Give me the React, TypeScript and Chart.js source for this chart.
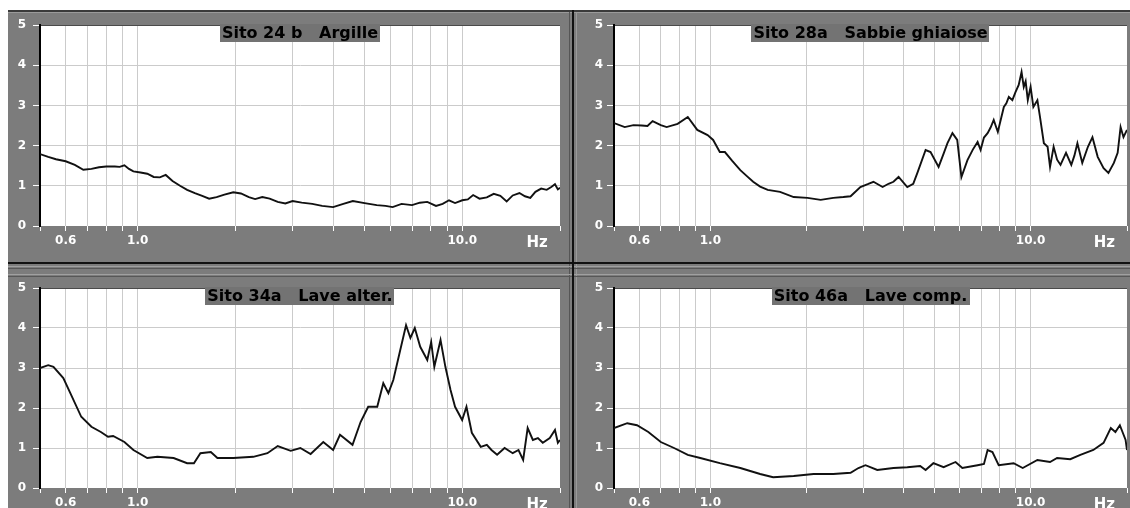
import React, { useEffect, useRef } from 'react';
import { Chart, registerables } from 'chart.js';

Chart.register(...registerables);

// ---------- data ----------
const TITLES = ['Sito 24 b   Argille', 'Sito 28a   Sabbie ghiaiose', 'Sito 34a   Lave alter.', 'Sito 46a   Lave comp.'];

const X_TICKS = [0.5, 0.6, 0.7, 0.8, 0.9, 1, 2, 3, 4, 5, 6, 7, 8, 9, 10, 17, 20];
const X_LABEL_VALUES = [0.6, 1, 10, 17];
const X_LABEL_TEXT = ['0.6', '1.0', '10.0', 'Hz'];
const X_NO_GRID = [0.5, 17, 20];
const Y_TICKS = [0, 1, 2, 3, 4, 5];

const freqA = [
  0.5, 0.53, 0.56, 0.6, 0.64, 0.68, 0.72, 0.76, 0.8, 0.85,
  0.88, 0.91, 0.94, 0.97, 1.02, 1.07, 1.12, 1.17, 1.22, 1.28,
  1.35, 1.42, 1.5, 1.58, 1.66, 1.75, 1.85, 1.97, 2.08, 2.2,
  2.3, 2.42, 2.55, 2.7, 2.85, 3.0, 3.2, 3.45, 3.7, 4.0,
  4.3, 4.6, 5.0, 5.45, 5.8, 6.1, 6.5, 7.0, 7.4, 7.8,
  8.3, 8.7, 9.1, 9.5, 10.0, 10.4, 10.8, 11.3, 11.9, 12.5,
  13.1, 13.7, 14.3, 15.0, 15.6, 16.2, 16.8, 17.5, 18.2, 18.8,
  19.3, 19.7, 20,
];
const valsA = [
  1.79, 1.72, 1.66, 1.61, 1.52, 1.40, 1.42, 1.46, 1.48, 1.48,
  1.47, 1.51, 1.42, 1.36, 1.33, 1.30, 1.22, 1.21, 1.27, 1.12,
  1.00, 0.90, 0.82, 0.75, 0.68, 0.72, 0.78, 0.84, 0.81, 0.72,
  0.67, 0.72, 0.68, 0.60, 0.56, 0.62, 0.58, 0.55, 0.50, 0.47,
  0.55, 0.62, 0.57, 0.52, 0.50, 0.47, 0.55, 0.52, 0.58, 0.60,
  0.50, 0.55, 0.64, 0.57, 0.64, 0.66, 0.77, 0.68, 0.71, 0.80,
  0.75, 0.61, 0.76, 0.82, 0.74, 0.70, 0.85, 0.93, 0.90, 0.97,
  1.04, 0.91, 0.95,
];

const freqB = [
  0.5, 0.54, 0.575, 0.61, 0.636, 0.66, 0.7, 0.73, 0.79, 0.85,
  0.91, 0.98, 1.02, 1.07, 1.11, 1.17, 1.24, 1.3, 1.36, 1.43,
  1.51, 1.65, 1.82, 2.01, 2.21, 2.42, 2.6, 2.74, 2.94, 3.1,
  3.23, 3.45, 3.6, 3.73, 3.87, 4.12, 4.3, 4.43, 4.7, 4.87,
  5.16, 5.35, 5.5, 5.7, 5.9, 6.08, 6.35, 6.6, 6.83, 6.98,
  7.15, 7.34, 7.5, 7.67, 7.9, 8.1, 8.25, 8.4, 8.55, 8.77,
  8.97, 9.18, 9.37, 9.52, 9.65, 9.8, 10.0, 10.2, 10.5, 10.7,
  11.0, 11.3, 11.5, 11.8, 12.1, 12.4, 12.9, 13.4, 13.7, 14.0,
  14.5, 15.1, 15.6, 16.2, 16.9, 17.5, 18.2, 18.7, 19.1, 19.5,
  20,
];
const valsB = [
  2.56, 2.46, 2.51, 2.50, 2.49, 2.61, 2.51, 2.46, 2.54, 2.71,
  2.39, 2.26, 2.14, 1.84, 1.84, 1.62, 1.39, 1.24, 1.10, 0.98,
  0.90, 0.85, 0.72, 0.70, 0.65, 0.70, 0.72, 0.74, 0.97, 1.04,
  1.10, 0.97, 1.05, 1.10, 1.22, 0.97, 1.05, 1.32, 1.89, 1.84,
  1.47, 1.80, 2.06, 2.31, 2.14, 1.22, 1.64, 1.90, 2.09, 1.89,
  2.20, 2.31, 2.45, 2.64, 2.34, 2.70, 2.96, 3.05, 3.21, 3.13,
  3.33, 3.51, 3.83, 3.46, 3.60, 3.13, 3.46, 2.96, 3.13, 2.71,
  2.06, 1.97, 1.47, 1.97, 1.65, 1.52, 1.82, 1.52, 1.75, 2.06,
  1.57, 1.97, 2.21, 1.72, 1.44, 1.32, 1.57, 1.82, 2.46, 2.21,
  2.39,
];

const freqC = [
  0.5, 0.53, 0.55, 0.59, 0.62, 0.67, 0.72, 0.77, 0.81, 0.84,
  0.91, 0.97, 1.07, 1.15, 1.29, 1.42, 1.49, 1.56, 1.68, 1.76,
  1.97, 2.27, 2.51, 2.7, 2.96, 3.17, 3.41, 3.73, 4.0, 4.2,
  4.59, 4.86, 5.13, 5.47, 5.71, 5.92, 6.13, 6.44, 6.71, 6.92,
  7.14, 7.42, 7.8, 8.02, 8.2, 8.57, 8.87, 9.2, 9.5, 9.99,
  10.3, 10.7, 11.4, 11.9, 12.3, 12.8, 13.5, 14.3, 14.9, 15.4,
  15.9, 16.5, 17.1, 17.7, 18.6, 19.3, 19.7, 20,
];
const valsC = [
  3.00, 3.07, 3.03, 2.75, 2.37, 1.78, 1.53, 1.40, 1.28, 1.30,
  1.15, 0.95, 0.75, 0.78, 0.75, 0.62, 0.62, 0.87, 0.90, 0.75,
  0.75, 0.78, 0.87, 1.05, 0.93, 1.00, 0.85, 1.15, 0.95, 1.33,
  1.08, 1.65, 2.03, 2.03, 2.62, 2.37, 2.70, 3.45, 4.07, 3.75,
  4.00, 3.53, 3.20, 3.65, 3.03, 3.70, 3.03, 2.45, 2.03, 1.70,
  2.03, 1.38, 1.03, 1.08, 0.95, 0.83, 1.00, 0.87, 0.95, 0.70,
  1.50, 1.20, 1.25, 1.13, 1.25, 1.45, 1.13, 1.20,
];

const freqD = [
  0.5, 0.55, 0.59, 0.64, 0.7, 0.77, 0.85, 0.93, 1.07, 1.24,
  1.43, 1.57, 1.82, 2.1, 2.42, 2.74, 2.9, 3.05, 3.32, 3.73,
  4.12, 4.52, 4.7, 4.97, 5.35, 5.83, 6.12, 6.83, 7.15, 7.34,
  7.6, 7.95, 8.85, 9.45, 10.5, 11.5, 12.1, 13.3, 14.3, 15.7,
  16.9, 17.8, 18.4, 19.0, 19.8, 20,
];
const valsD = [
  1.50, 1.62, 1.57, 1.40, 1.15, 1.00, 0.83, 0.75, 0.62, 0.50,
  0.35, 0.27, 0.30, 0.35, 0.35, 0.38, 0.50, 0.57, 0.45, 0.50,
  0.52, 0.55, 0.45, 0.62, 0.52, 0.65, 0.50, 0.57, 0.60, 0.95,
  0.90, 0.57, 0.62, 0.50, 0.70, 0.65, 0.75, 0.72, 0.83, 0.95,
  1.13, 1.50, 1.40, 1.57, 1.20, 0.95,
];

// ---------- styling / layout ----------
const FONT = '"DejaVu Sans", "Liberation Sans", Arial, sans-serif';
const BG = '#7c7c7c';
const TITLE_BG = '#737373';
const GRID = '#cbcbcb';

type PanelProps = {
  left: number; top: number; width: number; height: number;
  padTop: number; padRight: number; yWidth: number; xHeight: number; yPad: number;
  title: string; freqs: number[]; vals: number[];
};

const near = (a: number, b: number) => Math.abs(a - b) < 1e-6;

function Panel(p: PanelProps) {
  const ref = useRef<HTMLCanvasElement | null>(null);
  useEffect(() => {
    const canvas = ref.current;
    if (!canvas) return;
    const bgPlugin = {
      id: 'plotBg',
      beforeDraw(chart: any) {
        const { ctx, chartArea: a } = chart;
        ctx.save();
        ctx.fillStyle = '#ffffff';
        ctx.fillRect(a.left, a.top, a.right - a.left, a.bottom - a.top);
        ctx.restore();
      },
    };
    const titlePlugin = {
      id: 'boxTitle',
      afterDraw(chart: any) {
        const { ctx, chartArea: a } = chart;
        ctx.save();
        ctx.font = `bold 16px ${FONT}`;
        const w = ctx.measureText(p.title).width;
        const cx = (a.left + a.right) / 2;
        const bw = w + 4;
        ctx.fillStyle = TITLE_BG;
        ctx.fillRect(Math.round(cx - bw / 2), a.top - 1, Math.round(bw), 18);
        ctx.fillStyle = '#000000';
        ctx.textBaseline = 'middle';
        ctx.textAlign = 'center';
        ctx.fillText(p.title, cx, a.top + 8.5);
        ctx.restore();
      },
    };
    const chart = new Chart(canvas, {
      type: 'line',
      data: {
        datasets: [
          {
            data: p.freqs.map((f, i) => ({ x: f, y: p.vals[i] })),
            borderColor: '#111111',
            borderWidth: 1.9,
            pointRadius: 0,
            tension: 0,
            fill: false,
          },
        ],
      },
      options: {
        animation: false,
        responsive: false,
        maintainAspectRatio: false,
        devicePixelRatio: 1,
        layout: { padding: { top: p.padTop, right: p.padRight, left: 0, bottom: 0 } },
        plugins: { legend: { display: false }, tooltip: { enabled: false }, title: { display: false } },
        scales: {
          x: {
            type: 'logarithmic',
            min: 0.5,
            max: 20,
            afterBuildTicks: (s: any) => {
              s.ticks = X_TICKS.map((v) => ({ value: v }));
            },
            afterFit: (s: any) => {
              s.height = p.xHeight;
            },
            ticks: {
              autoSkip: false,
              maxRotation: 0,
              minRotation: 0,
              color: '#ffffff',
              padding: 3,
              font: (ctx: any) =>
                ctx.tick && near(ctx.tick.value, 17)
                  ? { family: FONT, size: 15, weight: 'bold' }
                  : { family: FONT, size: 12, weight: 'bold' },
              callback: (v: any) => {
                const i = X_LABEL_VALUES.findIndex((x) => near(x, Number(v)));
                return i >= 0 ? X_LABEL_TEXT[i] : '';
              },
            },
            grid: {
              color: (ctx: any) =>
                ctx.tick && X_NO_GRID.some((x) => near(x, ctx.tick.value)) ? 'rgba(0,0,0,0)' : GRID,
              tickColor: (ctx: any) =>
                ctx.tick && near(ctx.tick.value, 17) ? 'rgba(0,0,0,0)' : '#ffffff',
              tickLength: 5,
              lineWidth: 1,
            },
            border: { display: false },
          },
          y: {
            type: 'linear',
            min: 0,
            max: 5,
            afterBuildTicks: (s: any) => {
              s.ticks = Y_TICKS.map((v) => ({ value: v }));
            },
            afterFit: (s: any) => {
              s.width = p.yWidth;
            },
            ticks: {
              color: '#ffffff',
              padding: p.yPad,
              font: { family: FONT, size: 12, weight: 'bold' },
              callback: (v: any) => String(v),
            },
            grid: {
              color: (ctx: any) =>
                ctx.tick && ctx.tick.value === 0 ? 'rgba(0,0,0,0)' : ctx.tick && ctx.tick.value === 5 ? '#4a4a4a' : GRID,
              tickColor: '#ffffff',
              tickLength: 7,
              lineWidth: 1,
            },
            border: { color: '#000000', width: 2 },
          },
        },
      } as any,
      plugins: [bgPlugin, titlePlugin],
    });
    return () => chart.destroy();
  }, []);
  return (
    <canvas
      ref={ref}
      width={p.width}
      height={p.height}
      style={{ position: 'absolute', left: p.left, top: p.top, width: p.width, height: p.height }}
    />
  );
}

const line = (left: number, top: number, width: number, height: number, color: string) => (
  <div style={{ position: 'absolute', left, top, width, height, background: color }} />
);

export default function App() {
  return (
    <div style={{ position: 'absolute', left: 0, top: 0, width: 1130, height: 508, background: '#ffffff', overflow: 'hidden' }}>
      {line(8, 10, 1122, 498, BG)}
      {line(8, 10, 1122, 2, '#3a3a3a')}
      {line(8, 12, 1122, 1, '#9a9a9a')}
      {line(569, 12, 1, 496, '#555555')}
      {line(572, 10, 2, 498, '#111111')}
      {line(576, 12, 1, 496, '#9a9a9a')}
      {line(8, 262, 1122, 2, '#111111')}
      {line(8, 266, 1122, 1, '#a0a0a0')}
      {line(8, 268, 1122, 1, '#575757')}
      {line(8, 274, 1122, 1, '#a0a0a0')}
      {line(8, 276, 1122, 1, '#575757')}
      {line(572, 262, 2, 246, '#111111')}
      <Panel left={8} top={10} width={563} height={253} padTop={15} padRight={11} yWidth={32} xHeight={37} yPad={7}
        title={TITLES[0]} freqs={freqA} vals={valsA} />
      <Panel left={575} top={10} width={555} height={253} padTop={15} padRight={2} yWidth={39} xHeight={37} yPad={4}
        title={TITLES[1]} freqs={freqB} vals={valsB} />
      <Panel left={8} top={264} width={563} height={244} padTop={24} padRight={11} yWidth={32} xHeight={20} yPad={7}
        title={TITLES[2]} freqs={freqC} vals={valsC} />
      <Panel left={575} top={264} width={555} height={244} padTop={24} padRight={2} yWidth={39} xHeight={20} yPad={4}
        title={TITLES[3]} freqs={freqD} vals={valsD} />
    </div>
  );
}
